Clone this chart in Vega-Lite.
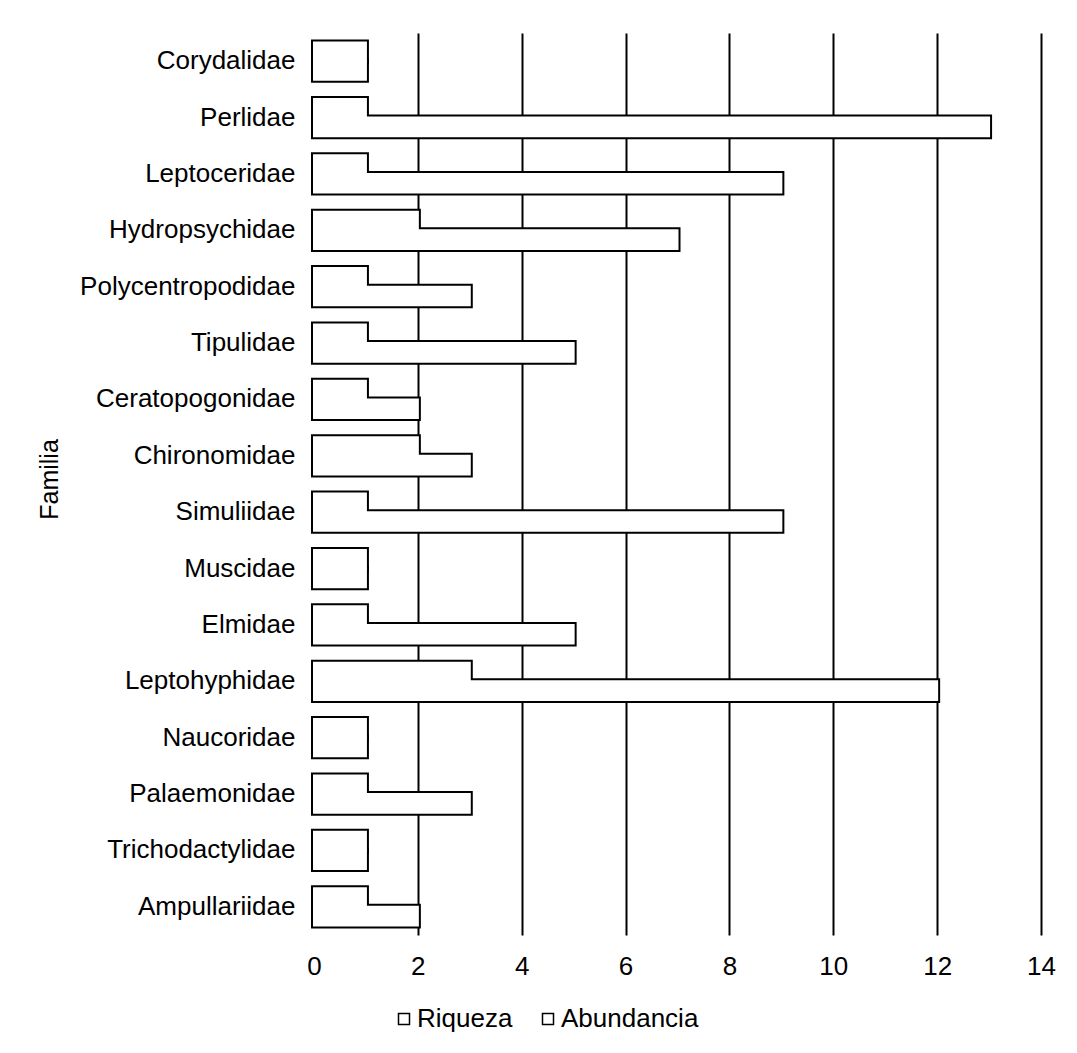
{
  "$schema": "https://vega.github.io/schema/vega-lite/v6.json",
  "autosize": {"type": "none"},
  "padding": {"left": 314, "top": 33, "right": 36, "bottom": 118},
  "width": 727,
  "height": 902,
  "background": "white",
  "config": {
    "font": "Liberation Sans",
    "view": {"stroke": null},
    "axis": {"labelFont": "Liberation Sans", "titleFont": "Liberation Sans", "labelColor": "black", "titleColor": "black"},
    "legend": {"labelFont": "Liberation Sans"}
  },
  "data": {
    "values": [
      {"familia": "Corydalidae", "serie": "Riqueza", "valor": 1},
      {"familia": "Corydalidae", "serie": "Abundancia", "valor": 1},
      {"familia": "Perlidae", "serie": "Riqueza", "valor": 1},
      {"familia": "Perlidae", "serie": "Abundancia", "valor": 13},
      {"familia": "Leptoceridae", "serie": "Riqueza", "valor": 1},
      {"familia": "Leptoceridae", "serie": "Abundancia", "valor": 9},
      {"familia": "Hydropsychidae", "serie": "Riqueza", "valor": 2},
      {"familia": "Hydropsychidae", "serie": "Abundancia", "valor": 7},
      {"familia": "Polycentropodidae", "serie": "Riqueza", "valor": 1},
      {"familia": "Polycentropodidae", "serie": "Abundancia", "valor": 3},
      {"familia": "Tipulidae", "serie": "Riqueza", "valor": 1},
      {"familia": "Tipulidae", "serie": "Abundancia", "valor": 5},
      {"familia": "Ceratopogonidae", "serie": "Riqueza", "valor": 1},
      {"familia": "Ceratopogonidae", "serie": "Abundancia", "valor": 2},
      {"familia": "Chironomidae", "serie": "Riqueza", "valor": 2},
      {"familia": "Chironomidae", "serie": "Abundancia", "valor": 3},
      {"familia": "Simuliidae", "serie": "Riqueza", "valor": 1},
      {"familia": "Simuliidae", "serie": "Abundancia", "valor": 9},
      {"familia": "Muscidae", "serie": "Riqueza", "valor": 1},
      {"familia": "Muscidae", "serie": "Abundancia", "valor": 1},
      {"familia": "Elmidae", "serie": "Riqueza", "valor": 1},
      {"familia": "Elmidae", "serie": "Abundancia", "valor": 5},
      {"familia": "Leptohyphidae", "serie": "Riqueza", "valor": 3},
      {"familia": "Leptohyphidae", "serie": "Abundancia", "valor": 12},
      {"familia": "Naucoridae", "serie": "Riqueza", "valor": 1},
      {"familia": "Naucoridae", "serie": "Abundancia", "valor": 1},
      {"familia": "Palaemonidae", "serie": "Riqueza", "valor": 1},
      {"familia": "Palaemonidae", "serie": "Abundancia", "valor": 3},
      {"familia": "Trichodactylidae", "serie": "Riqueza", "valor": 1},
      {"familia": "Trichodactylidae", "serie": "Abundancia", "valor": 1},
      {"familia": "Ampullariidae", "serie": "Riqueza", "valor": 1},
      {"familia": "Ampullariidae", "serie": "Abundancia", "valor": 2}
    ]
  },
  "encoding": {
    "y": {
      "field": "familia",
      "type": "nominal",
      "sort": null,
      "scale": {"paddingInner": 0.34, "paddingOuter": 0.17},
      "axis": {
        "title": "Familia",
        "titleFontSize": 25,
        "titleFontWeight": "normal",
        "titleX": -252,
        "titleY": 446,
        "titleAngle": -90,
        "titleAlign": "center",
        "titleBaseline": "bottom",
        "labelFontSize": 26,
        "labelLimit": 0,
        "labelPadding": 19,
        "domain": false,
        "ticks": false,
        "grid": false
      }
    },
    "yOffset": {
      "field": "serie",
      "type": "nominal",
      "sort": ["Riqueza", "Abundancia"],
      "scale": {"paddingInner": 0, "paddingOuter": 0}
    },
    "x": {
      "field": "valor",
      "type": "quantitative",
      "scale": {"domain": [0, 14], "nice": false},
      "axis": {
        "title": null,
        "values": [0, 2, 4, 6, 8, 10, 12, 14],
        "labelFontSize": 26,
        "labelFlush": false,
        "labelPadding": 18,
        "domain": false,
        "ticks": false,
        "grid": true,
        "gridColor": {"condition": {"test": "datum.value === 0", "value": "transparent"}, "value": "black"},
        "gridWidth": 2
      }
    }
  },
  "layer": [
    {
      "mark": {"type": "bar", "stroke": "black", "strokeWidth": 6},
      "encoding": {
        "fill": {
          "field": "serie",
          "type": "nominal",
          "sort": ["Riqueza", "Abundancia"],
          "scale": {"range": ["white", "white"]},
          "legend": {
            "title": null,
            "orient": "none",
            "direction": "horizontal",
            "legendX": 77,
            "legendY": 973,
            "labelFontSize": 26,
            "labelColor": "black",
            "symbolType": "square",
            "symbolSize": 121,
            "symbolStrokeColor": "black",
            "symbolStrokeWidth": 1.5,
            "labelOffset": 0,
            "columnPadding": 22
          }
        }
      }
    },
    {
      "mark": {"type": "bar", "fill": "white", "stroke": "white", "strokeWidth": 2}
    }
  ]
}
